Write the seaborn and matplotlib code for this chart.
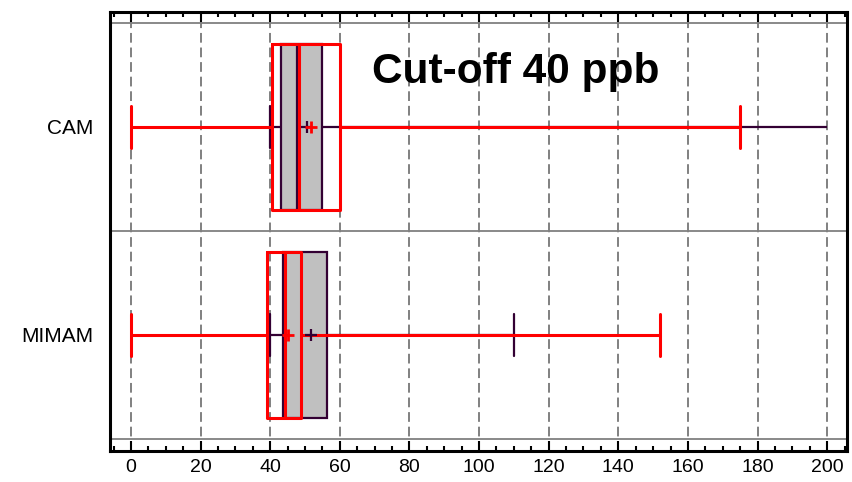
import numpy as np
import pandas as pd
import matplotlib
matplotlib.use("Agg")
import matplotlib.pyplot as plt
from matplotlib.ticker import MultipleLocator
import seaborn as sns

categories = ["CAM", "MIMAM"]

# grey (dark outline) box statistics
grey_min = [40.0, 40.0]
grey_q1 = [43.1, 43.6]
grey_med = [47.6, 44.2]
grey_q3 = [55.0, 56.4]
grey_max = [200.0, 110.0]
grey_mean = [50.5, 51.7]

# red box statistics
red_min = [0.0, 0.0]
red_q1 = [40.4, 39.2]
red_med = [48.3, 44.3]
red_q3 = [60.1, 48.8]
red_max = [175.0, 152.0]
red_mean = [51.6, 45.0]

title_text = "Cut-off 40 ppb"
xticks = [0, 20, 40, 60, 80, 100, 120, 140, 160, 180, 200]


def five_number_frame(cats, mins, q1s, meds, q3s, maxs):
    rows = []
    for c, a, b, m, d, e in zip(cats, mins, q1s, meds, q3s, maxs):
        for v in (a, b, m, d, e):
            rows.append({"group": c, "value": v})
    return pd.DataFrame(rows)


grey_df = five_number_frame(categories, grey_min, grey_q1, grey_med, grey_q3, grey_max)
red_df = five_number_frame(categories, red_min, red_q1, red_med, red_q3, red_max)

sns.set_style("white")
plt.rcParams["font.family"] = ["Liberation Sans", "DejaVu Sans"]

fig = plt.figure(figsize=(8.53, 4.82), dpi=100)
ax = fig.add_axes([0.129, 0.0643, 0.864, 0.911])

purple = "#330033"
sns.boxplot(data=grey_df, x="value", y="group", order=categories, orient="y",
            whis=np.inf, width=0.8, color="#c0c0c0", linecolor=purple,
            linewidth=1.6, capwidths=0.2, ax=ax, zorder=3)
n_grey_lines = len(ax.lines)
# the grey upper cap at the right edge of the axis is not shown in the reference
xmax_edge = max(grey_max)
for ln in ax.lines[:n_grey_lines]:
    xd = np.asarray(ln.get_xdata(), dtype=float)
    yd = np.asarray(ln.get_ydata(), dtype=float)
    if xd.size == 2 and np.allclose(xd, xmax_edge) and not np.allclose(yd[0], yd[1]):
        ln.set_visible(False)

sns.boxplot(data=red_df, x="value", y="group", order=categories, orient="y",
            whis=np.inf, width=0.8, fill=False, color="red", linecolor="red",
            linewidth=2.2, capwidths=0.2, ax=ax, zorder=4)

pos = np.arange(len(categories))
ax.scatter(grey_mean, pos, marker="+", s=70, color=purple, linewidths=1.6, zorder=5)
ax.scatter(red_mean, pos, marker="+", s=70, color="red", linewidths=2.0, zorder=6)

# separators between categories
for i in range(len(categories) + 1):
    ax.axhline(i - 0.5, color="#808080", lw=1.3, zorder=1)

ax.set_xlim(-6.0, 205.7)
ax.set_ylim(len(categories) - 0.442, -0.553)
ax.set_xticks(xticks)
ax.xaxis.set_minor_locator(MultipleLocator(5))
ax.grid(axis="x", which="major", color="#808080", linestyle=(0, (5, 2.5)), lw=1.4, zorder=0)
ax.set_axisbelow(True)

ax.tick_params(axis="x", which="major", direction="in", length=7, width=1.5,
               top=True, bottom=True, labelsize=14, pad=6, colors="black",
               labelcolor="black")
ax.tick_params(axis="x", which="minor", direction="in", length=3.5, width=1.5,
               top=True, bottom=True, colors="black")
ax.tick_params(axis="y", length=0, labelsize=15, pad=12, labelcolor="black")
ax.set_xlabel("")
ax.set_ylabel("")

for s in ax.spines.values():
    s.set_visible(True)
    s.set_color("black")
    s.set_linewidth(2.2)

ax.text(0.3555, 0.863, title_text, transform=ax.transAxes, ha="left", va="center",
        fontsize=30.5, fontweight="bold", color="black", zorder=7)

fig.savefig("out.png", dpi=100)
